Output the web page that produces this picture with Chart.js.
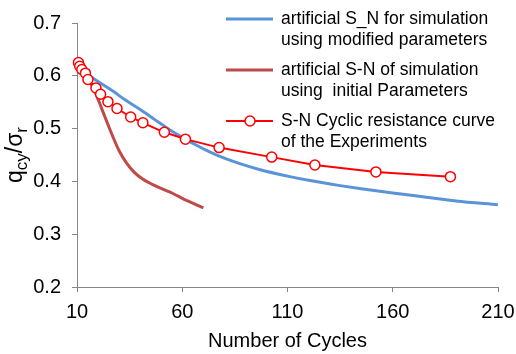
<!DOCTYPE html>
<html>
<head>
<meta charset="utf-8">
<script src="https://cdn.jsdelivr.net/npm/chart.js@4/dist/chart.umd.min.js"></script>
<style>
  html, body { margin: 0; padding: 0; background: #fff; }
  #chart { display: block; }
</style>
</head>
<body>
<canvas id="chart" width="516" height="354"></canvas>
<script>
// values
const xTicks = [10, 60, 110, 160, 210];
const yTicks = [0.2, 0.3, 0.4, 0.5, 0.6, 0.7];

const modCycles = [14, 20, 27, 33, 40, 47, 54, 61, 67, 73, 80, 87, 97, 110, 120, 135, 145, 160, 176, 190, 210];
const modRatio = [0.605, 0.589, 0.571, 0.554, 0.536, 0.517, 0.498, 0.481, 0.468, 0.456, 0.444, 0.434, 0.422, 0.410, 0.402, 0.392, 0.386, 0.378, 0.370, 0.363, 0.356];

const initCycles = [14, 18, 22, 27, 30, 33.5, 37, 41, 47, 54, 58, 62, 66, 70];
const initRatio = [0.600, 0.575, 0.535, 0.485, 0.458, 0.435, 0.418, 0.405, 0.392, 0.380, 0.372, 0.364, 0.357, 0.350];

const expCycles = [10.7, 11.3, 12.3, 14, 15.2, 19, 21.2, 24.7, 29, 35.5, 41.3, 51.5, 61.5, 77.5, 102.5, 123, 152, 187.4];
const expRatio = [0.625, 0.618, 0.612, 0.605, 0.593, 0.577, 0.565, 0.551, 0.538, 0.522, 0.511, 0.493, 0.480, 0.464, 0.446, 0.431, 0.418, 0.409];

const labels = [
  ['artificial S_N for simulation', 'using modified parameters'],
  ['artificial S-N of simulation', 'using  initial Parameters'],
  ['S-N Cyclic resistance curve', 'of the Experiments']
];

const toPoints = (xs, ys) => xs.map((x, i) => ({ x: x, y: ys[i] }));

const axisColor = '#868686';
const fontFamily = 'Arial, "Liberation Sans", sans-serif';

// legend drawn at the top right inside the plot, two lines per entry
const sideLegend = {
  id: 'sideLegend',
  afterDraw(chart) {
    const ctx = chart.ctx;
    ctx.save();
    ctx.font = '17.5px ' + fontFamily;
    ctx.textBaseline = 'middle';
    ctx.fillStyle = '#000';
    chart.data.datasets.forEach((ds, i) => {
      const y = 19 + i * 51;
      ctx.strokeStyle = ds.borderColor;
      ctx.lineWidth = ds.borderWidth;
      ctx.beginPath();
      ctx.moveTo(226, y);
      ctx.lineTo(273, y);
      ctx.stroke();
      if (ds.pointRadius > 0) {
        ctx.lineWidth = ds.pointBorderWidth;
        ctx.fillStyle = ds.pointBackgroundColor;
        ctx.beginPath();
        ctx.arc(250, y, ds.pointRadius, 0, Math.PI * 2);
        ctx.fill();
        ctx.stroke();
        ctx.fillStyle = '#000';
      }
      ds.label.forEach((line, j) => {
        ctx.fillText(line, 281, y + j * 21);
      });
    });
    ctx.restore();
  }
};

// y axis title with subscripts: q_cy / sigma_r
const yTitle = {
  id: 'yTitle',
  afterDraw(chart) {
    const ctx = chart.ctx;
    const parts = [
      { t: 'q', sub: false },
      { t: 'cy', sub: true },
      { t: '/', sub: false },
      { t: 'σ', sub: false },
      { t: 'r', sub: true }
    ];
    const mainFont = '23px ' + fontFamily;
    const subFont = '17px ' + fontFamily;
    ctx.save();
    let total = 0;
    parts.forEach(p => {
      ctx.font = p.sub ? subFont : mainFont;
      p.w = ctx.measureText(p.t).width;
      total += p.w;
    });
    ctx.translate(22, (chart.chartArea.top + chart.chartArea.bottom) / 2);
    ctx.rotate(-Math.PI / 2);
    ctx.fillStyle = '#000';
    ctx.textBaseline = 'alphabetic';
    let x = -total / 2;
    parts.forEach(p => {
      ctx.font = p.sub ? subFont : mainFont;
      ctx.fillText(p.t, x, p.sub ? 5 : 0);
      x += p.w;
    });
    ctx.restore();
  }
};

new Chart(document.getElementById('chart'), {
  type: 'line',
  data: {
    datasets: [
      {
        label: labels[0],
        data: toPoints(modCycles, modRatio),
        borderColor: '#5b93d9',
        borderWidth: 3,
        pointRadius: 0,
        cubicInterpolationMode: 'monotone',
        order: 2
      },
      {
        label: labels[1],
        data: toPoints(initCycles, initRatio),
        borderColor: '#be4b48',
        borderWidth: 3,
        pointRadius: 0,
        cubicInterpolationMode: 'monotone',
        order: 1
      },
      {
        label: labels[2],
        data: toPoints(expCycles, expRatio),
        borderColor: '#ff0000',
        borderWidth: 2,
        pointRadius: 5,
        pointBorderWidth: 1.5,
        pointBorderColor: '#ff0000',
        pointBackgroundColor: '#ffffff',
        tension: 0,
        clip: false,
        order: 0
      }
    ]
  },
  options: {
    responsive: false,
    animation: false,
    layout: { padding: { top: 17, right: 18, left: 0, bottom: 0 } },
    plugins: {
      legend: { display: false },
      tooltip: { enabled: false }
    },
    scales: {
      x: {
        type: 'linear',
        min: 10,
        max: 210,
        afterBuildTicks: scale => { scale.ticks = xTicks.map(v => ({ value: v })); },
        afterFit: scale => {
          scale.height = 67;
          scale.paddingLeft = 0;
          scale.paddingRight = 0;
        },
        border: { color: axisColor, width: 1 },
        grid: { drawOnChartArea: false, color: axisColor, tickLength: 5 },
        ticks: {
          color: '#000',
          font: { family: fontFamily, size: 20 },
          padding: 8,
          maxRotation: 0
        },
        title: {
          display: true,
          text: 'Number of Cycles',
          color: '#000',
          font: { family: fontFamily, size: 20 },
          padding: { top: 0, bottom: 1 }
        }
      },
      y: {
        type: 'linear',
        min: 0.2,
        max: 0.7,
        afterBuildTicks: scale => { scale.ticks = yTicks.map(v => ({ value: v })); },
        afterFit: scale => { scale.width = 77; },
        border: { color: axisColor, width: 1 },
        grid: { drawOnChartArea: false, color: axisColor, tickLength: 5 },
        ticks: {
          color: '#000',
          font: { family: fontFamily, size: 20 },
          padding: 11,
          callback: v => v.toFixed(1)
        }
      }
    }
  },
  plugins: [sideLegend, yTitle]
});
</script>
</body>
</html>
